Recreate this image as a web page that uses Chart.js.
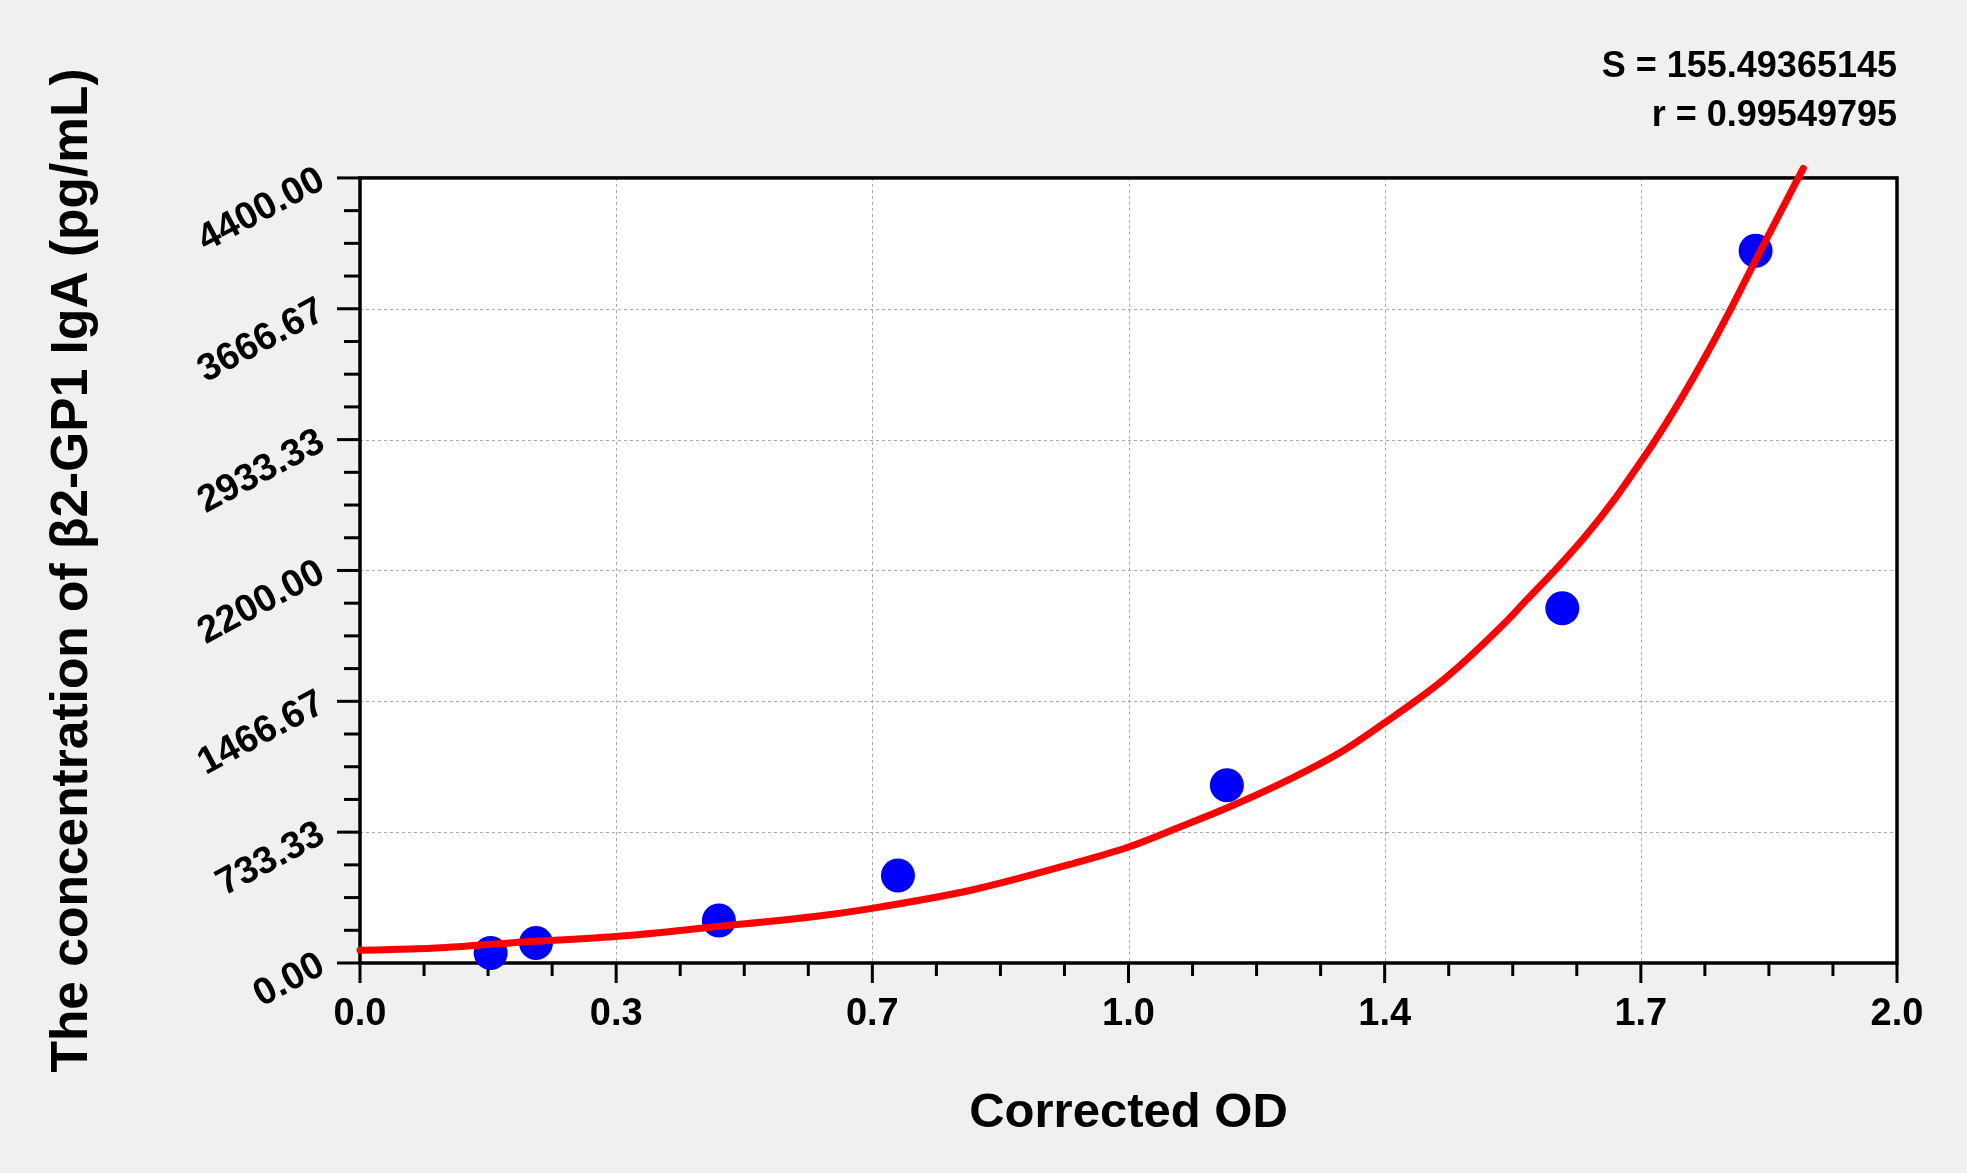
<!DOCTYPE html>
<html>
<head>
<meta charset="utf-8">
<script src="https://cdn.jsdelivr.net/npm/chart.js@4"></script>
<style>
  html, body { margin: 0; padding: 0; background: #f0f0f0; }
  #wrap { width: 1967px; height: 1173px; position: relative; }
</style>
</head>
<body>
<div id="wrap"><canvas id="c"></canvas></div>
<script>
// ---- data ----
const odValues   = [0.170, 0.229, 0.467, 0.700, 1.128, 1.5645, 1.816];
const concValues = [56, 112, 238, 490, 996, 1988, 3992];

const curveOD   = [0.000, 0.093, 0.199, 0.332, 0.465, 0.597, 0.666, 0.796, 0.929, 1.000,
                   1.0625, 1.127, 1.212, 1.277, 1.331, 1.411, 1.486, 1.518, 1.557, 1.596,
                   1.635, 1.6635, 1.683, 1.7176, 1.7524, 1.787, 1.8157, 1.848, 1.878];
const curveConc = [72, 82, 114, 148, 204, 263, 306, 409, 559, 650,
                   755, 867, 1035, 1184, 1340, 1592, 1890, 2035, 2210, 2400,
                   2614, 2790, 2913, 3152, 3413, 3693, 3937, 4205, 4454];

const xTickValues = [0, 0.33333, 0.66667, 1.0, 1.33333, 1.66667, 2.0];
const xTickLabels = ['0.0', '0.3', '0.7', '1.0', '1.4', '1.7', '2.0'];
const yTickValues = [0, 733.33, 1466.67, 2200, 2933.33, 3666.67, 4400];
const yTickLabels = ['0.00', '733.33', '1466.67', '2200.00', '2933.33', '3666.67', '4400.00'];

const statLines = ['S = 155.49365145', 'r = 0.99549795'];
const xTitle = 'Corrected OD';
const yTitle = 'The concentration of β2-GP1 IgA (pg/mL)';

// ---- styling ----
const FONT = "'Liberation Sans', Arial, Helvetica, sans-serif";
const MINOR_DIV = 4;

const framePlugin = {
  id: 'frame',
  beforeDatasetsDraw(chart) {
    const { ctx, chartArea: a, scales } = chart;
    const xs = scales.x, ys = scales.y;
    ctx.save();
    ctx.fillStyle = '#ffffff';
    ctx.fillRect(a.left, a.top, a.right - a.left, a.bottom - a.top);
    ctx.strokeStyle = '#a8a8a8';
    ctx.lineWidth = 1;
    ctx.setLineDash([3, 3]);
    xTickValues.forEach(v => {
      const px = Math.round(xs.getPixelForValue(v)) + 0.5;
      if (px <= a.left + 2 || px >= a.right - 2) return;
      ctx.beginPath(); ctx.moveTo(px, a.top); ctx.lineTo(px, a.bottom); ctx.stroke();
    });
    yTickValues.forEach(v => {
      const py = Math.round(ys.getPixelForValue(v)) + 0.5;
      if (py <= a.top + 2 || py >= a.bottom - 2) return;
      ctx.beginPath(); ctx.moveTo(a.left, py); ctx.lineTo(a.right, py); ctx.stroke();
    });
    ctx.setLineDash([]);
    ctx.strokeStyle = '#000000';
    ctx.lineWidth = 3;
    for (let i = 0; i < xTickValues.length; i++) {
      const v = xTickValues[i];
      const px = xs.getPixelForValue(v);
      ctx.beginPath(); ctx.moveTo(px, a.bottom); ctx.lineTo(px, a.bottom + 20); ctx.stroke();
      if (i < xTickValues.length - 1) {
        const step = (xTickValues[i + 1] - v) / MINOR_DIV;
        for (let k = 1; k < MINOR_DIV; k++) {
          const mx = xs.getPixelForValue(v + k * step);
          ctx.beginPath(); ctx.moveTo(mx, a.bottom); ctx.lineTo(mx, a.bottom + 13); ctx.stroke();
        }
      }
    }
    for (let i = 0; i < yTickValues.length; i++) {
      const v = yTickValues[i];
      const py = ys.getPixelForValue(v);
      ctx.beginPath(); ctx.moveTo(a.left, py); ctx.lineTo(a.left - 23, py); ctx.stroke();
      if (i < yTickValues.length - 1) {
        const step = (yTickValues[i + 1] - v) / MINOR_DIV;
        for (let k = 1; k < MINOR_DIV; k++) {
          const my = ys.getPixelForValue(v + k * step);
          ctx.beginPath(); ctx.moveTo(a.left, my); ctx.lineTo(a.left - 16, my); ctx.stroke();
        }
      }
    }
    ctx.lineWidth = 3.5;
    ctx.strokeRect(a.left, a.top, a.right - a.left, a.bottom - a.top);
    ctx.restore();
  }
};

const chart = new Chart(document.getElementById('c'), {
  type: 'scatter',
  data: {
    datasets: [
      {
        type: 'line',
        data: curveOD.map((x, i) => ({ x: x, y: curveConc[i] })),
        borderColor: '#ff0000',
        borderWidth: 7,
        pointRadius: 0,
        fill: false,
        cubicInterpolationMode: 'monotone',
        borderCapStyle: 'round',
        borderJoinStyle: 'round',
        clip: false,
        order: 0
      },
      {
        type: 'scatter',
        data: odValues.map((x, i) => ({ x: x, y: concValues[i] })),
        backgroundColor: '#0000ff',
        borderColor: '#0000ff',
        borderWidth: 0,
        pointRadius: 17,
        clip: false,
        order: 1
      }
    ]
  },
  options: {
    responsive: true,
    maintainAspectRatio: false,
    animation: false,
    events: [],
    layout: { padding: { top: 0, right: 70, bottom: 0, left: 0 } },
    plugins: {
      legend: { display: false },
      tooltip: { enabled: false },
      title: {
        display: true,
        text: statLines,
        align: 'end',
        color: '#000000',
        font: { family: FONT, size: 36, weight: 'bold', lineHeight: 1.36 },
        padding: { top: 43, bottom: 37 }
      }
    },
    scales: {
      x: {
        type: 'linear',
        min: 0,
        max: 2,
        afterBuildTicks: s => { s.ticks = xTickValues.map(v => ({ value: v })); },
        afterFit: s => { s.height = 210; },
        ticks: {
          callback: (v, i) => xTickLabels[i],
          autoSkip: false,
          maxRotation: 0,
          minRotation: 0,
          padding: 9,
          color: '#000000',
          font: { family: FONT, size: 38, weight: 'bold' }
        },
        grid: { display: true, drawOnChartArea: false, drawTicks: true, tickLength: 20, color: 'rgba(0,0,0,0)', tickColor: 'rgba(0,0,0,0)' },
        border: { display: false },
        title: {
          display: true,
          text: xTitle,
          color: '#000000',
          font: { family: FONT, size: 49, weight: 'bold', lineHeight: 1.2 },
          padding: { top: 0, bottom: 30 }
        }
      },
      y: {
        type: 'linear',
        min: 0,
        max: 4400,
        afterBuildTicks: s => { s.ticks = yTickValues.map(v => ({ value: v })); },
        afterFit: s => { s.width = 360; },
        ticks: {
          callback: (v, i) => yTickLabels[i],
          autoSkip: false,
          minRotation: 28,
          maxRotation: 28,
          padding: 15,
          color: '#000000',
          font: { family: FONT, size: 38, weight: 'bold' }
        },
        grid: { display: true, drawOnChartArea: false, drawTicks: true, tickLength: 23, color: 'rgba(0,0,0,0)', tickColor: 'rgba(0,0,0,0)' },
        border: { display: false },
        title: {
          display: true,
          text: yTitle,
          color: '#000000',
          font: { family: FONT, size: 51.5, weight: 'bold', lineHeight: 1.2 },
          padding: { top: 42, bottom: 0 }
        }
      }
    }
  },
  plugins: [framePlugin]
});
</script>
</body>
</html>
